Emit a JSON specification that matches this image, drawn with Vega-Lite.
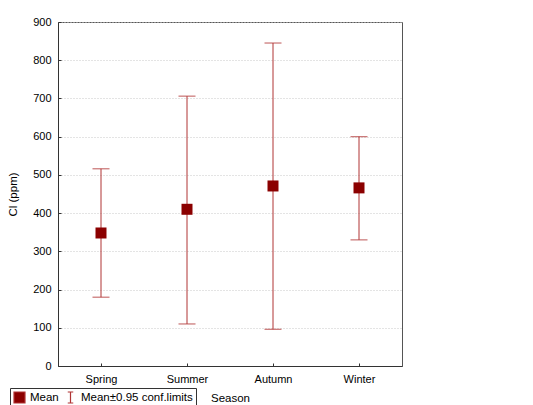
{
  "$schema": "https://vega.github.io/schema/vega-lite/v6.json",
  "autosize": {"type": "none"},
  "width": 344,
  "height": 344,
  "padding": {"left": 58, "top": 22, "right": 131, "bottom": 39},
  "background": "white",
  "config": {
    "font": "Liberation Sans",
    "view": {"stroke": "#555", "strokeWidth": 1},
    "axis": {
      "labelFont": "Liberation Sans",
      "titleFont": "Liberation Sans",
      "labelFontSize": 11,
      "titleFontSize": 11.5,
      "titleFontWeight": "normal",
      "labelColor": "#000",
      "titleColor": "#000",
      "domainColor": "#333",
      "tickColor": "#333",
      "labelOverlap": false
    },
    "axisY": {
      "tickCount": 10,
      "labelOverlap": false,
      "labelFlush": false,
      "tickSize": -3,
      "labelPadding": 10,
      "titlePadding": 14,
      "grid": true,
      "gridColor": "#c8c8c8",
      "gridDash": [1, 2],
      "gridWidth": 1
    }
  },
  "data": {
    "values": [
      {"Season": "Spring", "mean": 348, "lower": 180, "upper": 516},
      {"Season": "Summer", "mean": 410, "lower": 110, "upper": 706},
      {"Season": "Autumn", "mean": 471, "lower": 96, "upper": 845},
      {"Season": "Winter", "mean": 466, "lower": 330, "upper": 600}
    ]
  },
  "encoding": {
    "x": {
      "field": "Season",
      "type": "nominal",
      "sort": ["Spring", "Summer", "Autumn", "Winter"],
      "scale": {"type": "point", "padding": 0.5},
      "axis": {
        "title": "Season",
        "labelAngle": 0,
        "tickSize": -3,
        "labelPadding": 10,
        "titlePadding": 8,
        "grid": false
      }
    }
  },
  "layer": [
    {
      "mark": {"type": "rule", "color": "#b03434", "strokeWidth": 1},
      "encoding": {
        "y": {
          "field": "lower",
          "type": "quantitative",
          "scale": {"domain": [0, 900], "nice": false},
          "axis": {"title": "Cl (ppm)", "values": [0, 100, 200, 300, 400, 500, 600, 700, 800, 900]}
        },
        "y2": {"field": "upper"}
      }
    },
    {
      "mark": {"type": "tick", "color": "#b03434", "size": 17, "thickness": 1.2, "orient": "horizontal"},
      "encoding": {"y": {"field": "lower", "type": "quantitative", "axis": {"title": "Cl (ppm)", "values": [0, 100, 200, 300, 400, 500, 600, 700, 800, 900]}}}
    },
    {
      "mark": {"type": "tick", "color": "#b03434", "size": 17, "thickness": 1.2, "orient": "horizontal"},
      "encoding": {"y": {"field": "upper", "type": "quantitative", "axis": {"title": "Cl (ppm)", "values": [0, 100, 200, 300, 400, 500, 600, 700, 800, 900]}}}
    },
    {
      "mark": {"type": "point", "filled": true, "size": 121, "opacity": 1, "strokeWidth": 1},
      "encoding": {
        "y": {"field": "mean", "type": "quantitative", "axis": {"title": "Cl (ppm)", "values": [0, 100, 200, 300, 400, 500, 600, 700, 800, 900]}},
        "color": {
          "datum": "Mean",
          "scale": {"domain": ["Mean", "Mean±0.95 conf.limits"], "range": ["#8b0000", "#b03434"]},
          "legend": {
            "title": null,
            "orient": "none",
            "legendX": -48,
            "legendY": 366,
            "direction": "horizontal",
            "gridAlign": "none",
            "strokeColor": "#333",
            "padding": 3,
            "symbolSize": 121,
            "symbolStrokeWidth": 1.2,
            "symbolStrokeColor": "#b03434",
            "labelFontSize": 11.5,
            "labelColor": "#000",
            "labelFont": "Liberation Sans",
            "columnPadding": 5,
            "labelOffset": 4
          }
        },
        "shape": {
          "datum": "Mean",
          "scale": {"domain": ["Mean", "Mean±0.95 conf.limits"], "range": ["square", "M-0.5,-1H0.5M0,-1V1M-0.5,1H0.5"]}
        }
      }
    }
  ]
}
